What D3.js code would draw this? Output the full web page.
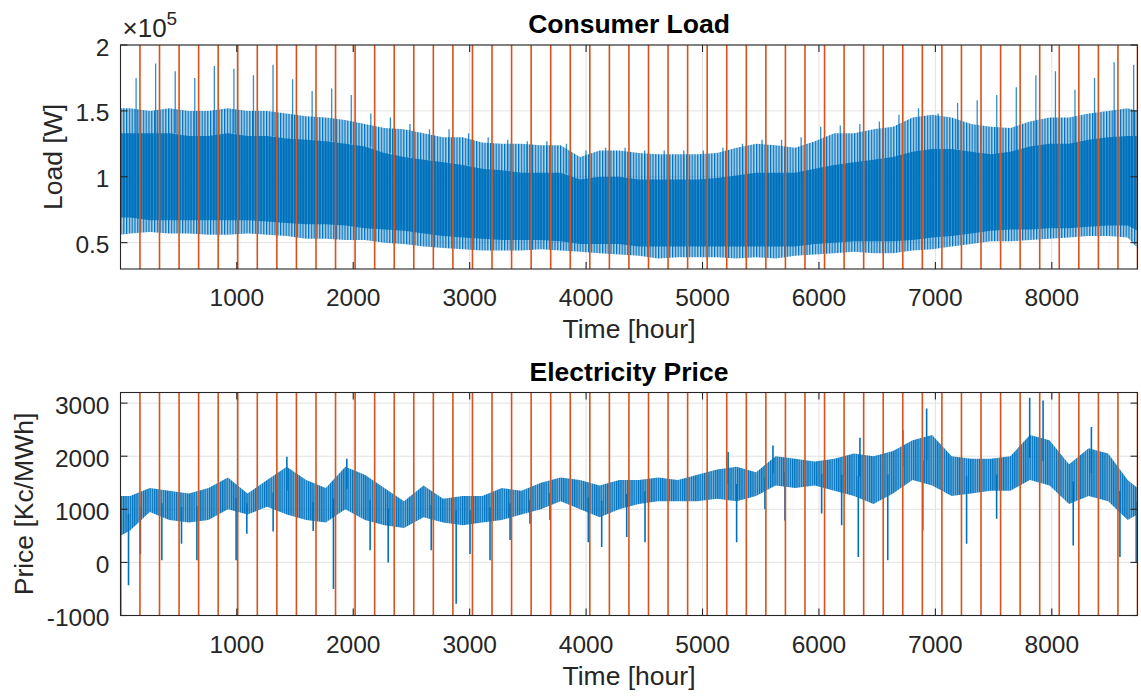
<!DOCTYPE html>
<html>
<head>
<meta charset="utf-8">
<script src="https://cdn.jsdelivr.net/npm/d3@7"></script>
<style>
  body { margin: 0; background: #fff; }
  svg { display: block; }
  text { font-family: "Liberation Sans", Arial, Helvetica, sans-serif; fill: #262626; }
</style>
</head>
<body>
<svg id="chart" width="1141" height="698"></svg>
<script>
// ---------------------------------------------------------------------------
// Data
// ---------------------------------------------------------------------------

// Week boundaries [hour] marked by vertical lines
const weekMarks = [168, 336, 504, 672, 840, 1008, 1176, 1344, 1512, 1680, 1848, 2016,
  2184, 2352, 2520, 2688, 2856, 3024, 3192, 3360, 3528, 3696, 3864, 4032, 4200, 4368,
  4536, 4704, 4872, 5040, 5208, 5376, 5544, 5712, 5880, 6048, 6216, 6384, 6552, 6720,
  6888, 7056, 7224, 7392, 7560, 7728, 7896, 8064, 8232, 8400, 8568, 8736];

// Sample hours of the weekly envelopes: series start, week centres, series end
const sampleHours = [1, 84, 252, 420, 588, 756, 924, 1092, 1260, 1428, 1596, 1764, 1932,
  2100, 2268, 2436, 2604, 2772, 2940, 3108, 3276, 3444, 3612, 3780, 3948, 4116, 4284,
  4452, 4620, 4788, 4956, 5124, 5292, 5460, 5628, 5796, 5964, 6132, 6300, 6468, 6636,
  6804, 6972, 7140, 7308, 7476, 7644, 7812, 7980, 8148, 8316, 8484, 8652, 8736];

// Consumer load envelope [W]: outer daily extremes and the dense core
const loadUpper = [1.52, 1.52, 1.50, 1.52, 1.50, 1.50, 1.52, 1.50, 1.50, 1.48, 1.46, 1.45,
  1.43, 1.40, 1.37, 1.36, 1.33, 1.30, 1.30, 1.26, 1.25, 1.25, 1.24, 1.24, 1.15, 1.20, 1.20,
  1.18, 1.17, 1.17, 1.17, 1.18, 1.22, 1.25, 1.24, 1.22, 1.27, 1.33, 1.33, 1.36, 1.38, 1.45,
  1.47, 1.45, 1.40, 1.38, 1.37, 1.42, 1.45, 1.45, 1.48, 1.50, 1.52, 1.50].map(v => v * 1e5);
const loadCoreHigh = [1.33, 1.33, 1.33, 1.33, 1.31, 1.31, 1.33, 1.31, 1.31, 1.29, 1.28, 1.27,
  1.25, 1.23, 1.18, 1.15, 1.13, 1.11, 1.09, 1.06, 1.05, 1.03, 1.03, 1.03, 0.98, 1.00, 1.00,
  0.98, 0.98, 0.98, 0.98, 0.99, 1.01, 1.03, 1.03, 1.03, 1.06, 1.09, 1.11, 1.13, 1.15, 1.19,
  1.21, 1.21, 1.19, 1.17, 1.19, 1.23, 1.25, 1.25, 1.28, 1.30, 1.31, 1.31].map(v => v * 1e5);
const loadCoreLow = [0.69, 0.69, 0.67, 0.67, 0.67, 0.67, 0.67, 0.67, 0.66, 0.65, 0.64, 0.64,
  0.63, 0.61, 0.60, 0.59, 0.57, 0.55, 0.54, 0.53, 0.52, 0.52, 0.52, 0.51, 0.49, 0.49, 0.49,
  0.47, 0.47, 0.47, 0.47, 0.47, 0.47, 0.47, 0.47, 0.47, 0.49, 0.50, 0.51, 0.51, 0.51, 0.52,
  0.54, 0.55, 0.57, 0.59, 0.60, 0.60, 0.61, 0.61, 0.62, 0.63, 0.63, 0.59].map(v => v * 1e5);
const loadLower = [0.56, 0.57, 0.58, 0.57, 0.57, 0.56, 0.56, 0.57, 0.56, 0.55, 0.53, 0.53,
  0.52, 0.52, 0.50, 0.49, 0.47, 0.46, 0.45, 0.44, 0.44, 0.44, 0.45, 0.44, 0.43, 0.42, 0.41,
  0.40, 0.38, 0.39, 0.39, 0.39, 0.38, 0.39, 0.38, 0.40, 0.41, 0.42, 0.43, 0.42, 0.42, 0.44,
  0.45, 0.47, 0.49, 0.51, 0.51, 0.52, 0.53, 0.54, 0.55, 0.55, 0.54, 0.46].map(v => v * 1e5);

// Weekly load peaks [hour] / [W]
const loadPeakHours = [135, 303, 471, 639, 807, 975, 1143, 1311, 1479, 1647, 1815, 1983,
  2151, 2319, 2487, 2655, 2823, 2991, 3159, 3327, 3495, 3663, 3831, 3999, 4167, 4335, 4503,
  4671, 4839, 5007, 5175, 5343, 5511, 5679, 5847, 6015, 6183, 6351, 6519, 6687, 6855, 7023,
  7191, 7359, 7527, 7695, 7863, 8031, 8199, 8367, 8535, 8703];
const loadPeaks = [1.75, 1.86, 1.80, 1.75, 1.84, 1.82, 1.77, 1.85, 1.74, 1.65, 1.67, 1.62,
  1.48, 1.45, 1.40, 1.36, 1.36, 1.33, 1.30, 1.28, 1.27, 1.27, 1.25, 1.20, 1.22, 1.22, 1.20,
  1.20, 1.20, 1.20, 1.22, 1.25, 1.28, 1.28, 1.30, 1.38, 1.39, 1.40, 1.42, 1.47, 1.52, 1.48,
  1.56, 1.58, 1.62, 1.68, 1.77, 1.80, 1.66, 1.75, 1.87, 1.85].map(v => v * 1e5);

// Electricity price band [Kc/MWh] at the sample hours
const priceHigh = [1250, 1250, 1400, 1350, 1300, 1400, 1600, 1300, 1550, 1800, 1550, 1400,
  1800, 1650, 1400, 1150, 1450, 1200, 1250, 1250, 1400, 1350, 1500, 1600, 1550, 1450, 1550,
  1550, 1600, 1550, 1650, 1750, 1800, 1700, 2000, 1950, 1900, 1950, 2050, 2000, 2100, 2300,
  2400, 2000, 1950, 1950, 2000, 2400, 2300, 1850, 2150, 2050, 1550, 1400];
const priceLow = [500, 600, 950, 800, 750, 800, 1000, 900, 1050, 900, 800, 750, 1000, 800,
  700, 650, 850, 750, 700, 750, 800, 900, 1000, 1150, 1000, 850, 1000, 1100, 1150, 1150,
  1150, 1200, 1150, 1250, 1450, 1400, 1450, 1350, 1250, 1100, 1300, 1550, 1450, 1250, 1300,
  1350, 1350, 1550, 1450, 1100, 1250, 1150, 800, 900];

// Short price excursions [hour] / [Kc/MWh]
const priceSpikeHours = [3, 70, 172, 356, 525, 657, 994, 1086, 1312, 1430, 1656, 1830,
  1945, 2145, 2300, 2670, 2884, 3003, 3175, 3347, 3518, 3690, 4019, 4134, 4349, 4506, 5220,
  5293, 5536, 5605, 5708, 6023, 6195, 6338, 6352, 6591, 6720, 6892, 6925, 7268, 7526, 7810,
  7925, 8184, 8340, 8585, 8725];
const priceSpikes = [-1000, -430, 160, 40, 350, 40, 40, 540, 580, 1990, 590, -500, 1950,
  230, 0, 230, -780, 160, 40, 420, 730, 800, 380, 290, 480, 380, 2080, 380, 1000, 2200, 790,
  920, 700, 100, 2350, 40, 2500, 600, 2900, 350, 820, 3100, 3050, 320, 2550, 100, 0];

// Axis ticks
const timeTicks = [1000, 2000, 3000, 4000, 5000, 6000, 7000, 8000];
const loadTicks = [0.5e5, 1e5, 1.5e5, 2e5];
const priceTicks = [-1000, 0, 1000, 2000, 3000];

// ---------------------------------------------------------------------------
// Layout / styling
// ---------------------------------------------------------------------------
const W = 1141, H = 698;
const LEFT = 120.5, RIGHT = 1137.5;
const BLUE = "#0072BD", ORANGE = "#D95319", AXIS = "#262626", GRID = "#e2e2e2";
const TICK_FS = 24.5, LABEL_FS = 26.5, TITLE_FS = 26.5, TICK_LEN = 7;

const svg = d3.select("#chart");
svg.append("rect").attr("width", W).attr("height", H).attr("fill", "#fff");

// hourly trace texture: thin vertical strokes
const defs = svg.append("defs");
function hatch(id, period, strokeW, gapOpacity) {
  const pat = defs.append("pattern").attr("id", id)
    .attr("patternUnits", "userSpaceOnUse").attr("width", period).attr("height", 8);
  pat.append("rect").attr("width", period).attr("height", 8)
    .attr("fill", BLUE).attr("fill-opacity", gapOpacity);
  pat.append("rect").attr("width", strokeW).attr("height", 8).attr("fill", BLUE);
}
hatch("hatch-load", 2.8, 1.3, 0.28);
hatch("hatch-core", 2.8, 2.0, 0.7);
hatch("hatch-price", 2.2, 1.2, 0.55);

const x = d3.scaleLinear().domain([1, 8736]).range([LEFT, RIGHT]);

const panels = [
  {
    id: "load", top: 45, bottom: 269, domain: [0.3e5, 2e5], ticks: loadTicks,
    fmt: v => d3.format("~g")(v / 1e5), title: "Consumer Load", ylabel: "Load [W]",
    ylabelX: 62, exponent: true
  },
  {
    id: "price", top: 392.5, bottom: 615.5, domain: [-1000, 3200], ticks: priceTicks,
    fmt: v => String(v), title: "Electricity Price", ylabel: "Price [Kc/MWh]",
    ylabelX: 33, exponent: false
  }
];

panels.forEach(p => {
  p.y = d3.scaleLinear().domain(p.domain).range([p.bottom, p.top]);
  const g = svg.append("g").attr("class", "panel-" + p.id);

  const clipId = "clip-" + p.id;
  defs.append("clipPath").attr("id", clipId)
    .append("rect").attr("x", LEFT).attr("y", p.top)
    .attr("width", RIGHT - LEFT).attr("height", p.bottom - p.top);

  // grid
  const grid = g.append("g");
  grid.selectAll(".gx").data(timeTicks).join("line")
    .attr("x1", d => x(d)).attr("x2", d => x(d))
    .attr("y1", p.top).attr("y2", p.bottom)
    .attr("stroke", GRID).attr("stroke-width", 1);
  grid.selectAll(".gy").data(p.ticks).join("line")
    .attr("x1", LEFT).attr("x2", RIGHT)
    .attr("y1", d => p.y(d)).attr("y2", d => p.y(d))
    .attr("stroke", GRID).attr("stroke-width", 1);

  p.plot = g.append("g").attr("clip-path", `url(#${clipId})`);
  p.g = g;
});

// ---------------------------------------------------------------------------
// Consumer load
// ---------------------------------------------------------------------------
{
  const p = panels[0], y = p.y, plot = p.plot;
  const band = (lo, hi) => d3.area()
    .x((d, i) => x(sampleHours[i]))
    .y0((d, i) => y(lo[i]))
    .y1((d, i) => y(hi[i]));

  plot.append("path").datum(sampleHours)
    .attr("d", band(loadLower, loadUpper))
    .attr("fill", "url(#hatch-load)");
  plot.append("path").datum(sampleHours)
    .attr("d", band(loadCoreLow, loadCoreHigh))
    .attr("fill", "url(#hatch-core)");

  // weekly peaks rising out of the dense core
  plot.selectAll(".peak").data(loadPeaks).join("line")
    .attr("x1", (d, i) => x(loadPeakHours[i])).attr("x2", (d, i) => x(loadPeakHours[i]))
    .attr("y1", (d, i) => y(loadCoreHigh[i + 1])).attr("y2", d => y(d))
    .attr("stroke", BLUE).attr("stroke-width", 1.3).attr("stroke-opacity", 0.8);
}

// ---------------------------------------------------------------------------
// Electricity price
// ---------------------------------------------------------------------------
{
  const p = panels[1], y = p.y, plot = p.plot;
  const band = d3.area()
    .x((d, i) => x(sampleHours[i]))
    .y0((d, i) => y(priceLow[i]))
    .y1((d, i) => y(priceHigh[i]));
  plot.append("path").datum(sampleHours).attr("d", band)
    .attr("fill", "url(#hatch-price)");

  // attach each excursion to the middle of the band at its hour
  const mid = d3.scaleLinear().domain(sampleHours)
    .range(sampleHours.map((h, i) => (priceLow[i] + priceHigh[i]) / 2));
  plot.selectAll(".spike").data(priceSpikes).join("line")
    .attr("x1", (d, i) => x(priceSpikeHours[i])).attr("x2", (d, i) => x(priceSpikeHours[i]))
    .attr("y1", (d, i) => y(mid(priceSpikeHours[i]))).attr("y2", d => y(d))
    .attr("stroke", BLUE).attr("stroke-width", 1.6);
}

// ---------------------------------------------------------------------------
// Week markers, frame, ticks and text
// ---------------------------------------------------------------------------
panels.forEach(p => {
  p.plot.selectAll(".week").data(weekMarks).join("line")
    .attr("x1", d => x(d)).attr("x2", d => x(d))
    .attr("y1", p.top).attr("y2", p.bottom)
    .attr("stroke", ORANGE).attr("stroke-width", 1.6);

  const g = p.g;
  g.append("rect")
    .attr("x", LEFT).attr("y", p.top)
    .attr("width", RIGHT - LEFT).attr("height", p.bottom - p.top)
    .attr("fill", "none").attr("stroke", AXIS).attr("stroke-width", 1.1);

  // inward ticks on all four sides
  const tk = g.append("g").attr("stroke", AXIS).attr("stroke-width", 1.1);
  timeTicks.forEach(t => {
    tk.append("line").attr("x1", x(t)).attr("x2", x(t))
      .attr("y1", p.bottom).attr("y2", p.bottom - TICK_LEN);
    tk.append("line").attr("x1", x(t)).attr("x2", x(t))
      .attr("y1", p.top).attr("y2", p.top + TICK_LEN);
  });
  p.ticks.forEach(t => {
    tk.append("line").attr("x1", LEFT).attr("x2", LEFT + TICK_LEN)
      .attr("y1", p.y(t)).attr("y2", p.y(t));
    tk.append("line").attr("x1", RIGHT).attr("x2", RIGHT - TICK_LEN)
      .attr("y1", p.y(t)).attr("y2", p.y(t));
  });

  // tick labels
  g.selectAll(".xl").data(timeTicks).join("text")
    .attr("x", d => x(d)).attr("y", p.bottom + 37)
    .attr("text-anchor", "middle").attr("font-size", TICK_FS)
    .text(d => d);
  g.selectAll(".yl").data(p.ticks).join("text")
    .attr("x", LEFT - 11).attr("y", d => p.y(d) + 10.5)
    .attr("text-anchor", "end").attr("font-size", TICK_FS)
    .text(p.fmt);

  // axis labels and title
  g.append("text")
    .attr("x", (LEFT + RIGHT) / 2).attr("y", p.bottom + 69)
    .attr("text-anchor", "middle").attr("font-size", LABEL_FS)
    .text("Time [hour]");
  g.append("text")
    .attr("transform", `translate(${p.ylabelX},${(p.top + p.bottom) / 2}) rotate(-90)`)
    .attr("text-anchor", "middle").attr("font-size", LABEL_FS)
    .text(p.ylabel);
  g.append("text")
    .attr("x", (LEFT + RIGHT) / 2).attr("y", p.top - 12)
    .attr("text-anchor", "middle").attr("font-size", TITLE_FS)
    .attr("font-weight", "bold").style("fill", "#000")
    .text(p.title);

  if (p.exponent) {
    const e = g.append("text").attr("x", LEFT + 2).attr("y", p.top - 8.5)
      .attr("font-size", 26);
    e.append("tspan").text("×10");
    e.append("tspan").attr("font-size", 19).attr("dy", -12).text("5");
  }
});
</script>
</body>
</html>
